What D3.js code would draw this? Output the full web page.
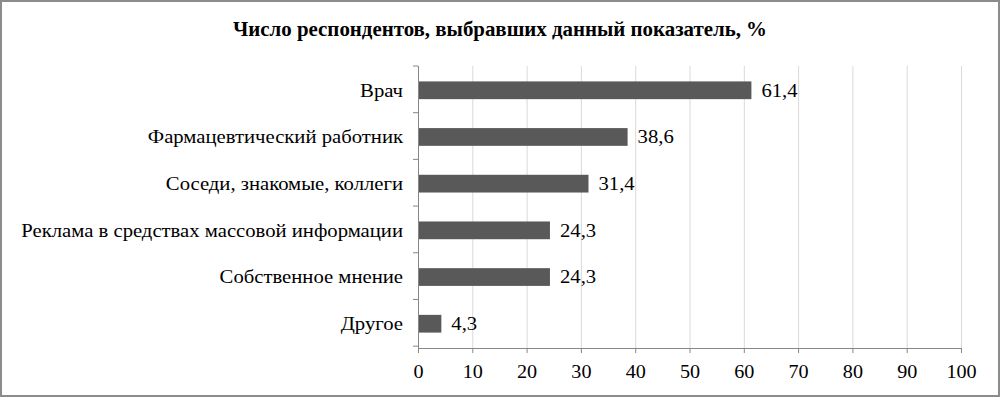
<!DOCTYPE html>
<html><head><meta charset="utf-8">
<script src="https://cdn.jsdelivr.net/npm/d3@7"></script>
<style>body{margin:0;background:#fff}svg{display:block}</style>
</head><body>
<svg id="c" width="1001" height="398"></svg>
<script>
const categories = ["Врач","Фармацевтический работник","Соседи, знакомые, коллеги","Реклама в средствах массовой информации","Собственное мнение","Другое"];
const values = [61.4,38.6,31.4,24.3,24.3,4.3];
const valueLabels = ["61,4","38,6","31,4","24,3","24,3","4,3"];
const xTicks = [0,10,20,30,40,50,60,70,80,90,100];
const title = "Число респондентов, выбравших  данный показатель, %";

const svg = d3.select("#c");
const font = "'Liberation Serif','Times New Roman',serif";
const sx = 1.15;
svg.append("rect").attr("x",1).attr("y",1).attr("width",998).attr("height",395)
  .attr("fill","#fff").attr("stroke","#8c8c8c").attr("stroke-width",2);

svg.append("text").attr("x",500).attr("y",36).attr("text-anchor","middle")
  .attr("font-family",font).attr("font-weight","bold").attr("font-size",20)
  .attr("textLength",534).attr("lengthAdjust","spacingAndGlyphs").attr("fill","#000").text(title);

const x = d3.scaleLinear().domain([0,100]).range([418,961]);
const y = d3.scaleBand().domain(categories).range([66,348]).paddingInner(0.62).paddingOuter(0.33);

// grid
svg.append("g").selectAll("line").data(xTicks.slice(1)).join("line")
  .attr("x1",d=>x(d)+0.5).attr("x2",d=>x(d)+0.5).attr("y1",66).attr("y2",348)
  .attr("stroke","#d9d9d9").attr("stroke-width",1);

// bars
svg.append("g").selectAll("rect").data(values).join("rect")
  .attr("x",x(0)).attr("y",(d,i)=>y(categories[i]))
  .attr("width",d=>x(d)-x(0)).attr("height",y.bandwidth()).attr("fill","#595959");

// x axis
const xa = svg.append("g").attr("transform","translate(0,348)")
  .call(d3.axisBottom(x).tickValues(xTicks).tickSize(5).tickPadding(8).tickFormat(d3.format("d")));
xa.select(".domain").attr("stroke","#868686");
xa.selectAll(".tick line").attr("stroke","#868686");
xa.selectAll("text").attr("font-family",font).attr("font-size",18).attr("fill","#000")
  .attr("transform","scale(1.12,1)").attr("x",0).attr("dy","0.95em");

// y axis line + ticks at band boundaries
const step = y.step();
svg.append("line").attr("x1",418.5).attr("x2",418.5).attr("y1",66).attr("y2",348).attr("stroke","#868686");
svg.append("g").selectAll("line").data(d3.range(categories.length+1)).join("line")
  .attr("x1",413).attr("x2",418).attr("y1",i=>66+i*step).attr("y2",i=>66+i*step).attr("stroke","#868686");

// category labels
svg.append("g").selectAll("text").data(categories).join("text")
  .attr("transform",d=>`translate(403,${y(d)+y.bandwidth()/2}) scale(${sx},1)`)
  .attr("dy","0.35em").attr("text-anchor","end")
  .attr("font-family",font).attr("font-size",18).attr("fill","#000").text(d=>d);

// value labels
svg.append("g").selectAll("text").data(values).join("text")
  .attr("transform",(d,i)=>`translate(${x(d)+10},${y(categories[i])+y.bandwidth()/2}) scale(${sx},1)`)
  .attr("dy","0.35em")
  .attr("font-family",font).attr("font-size",18).attr("fill","#000").text((d,i)=>valueLabels[i]);
</script>
</body></html>
